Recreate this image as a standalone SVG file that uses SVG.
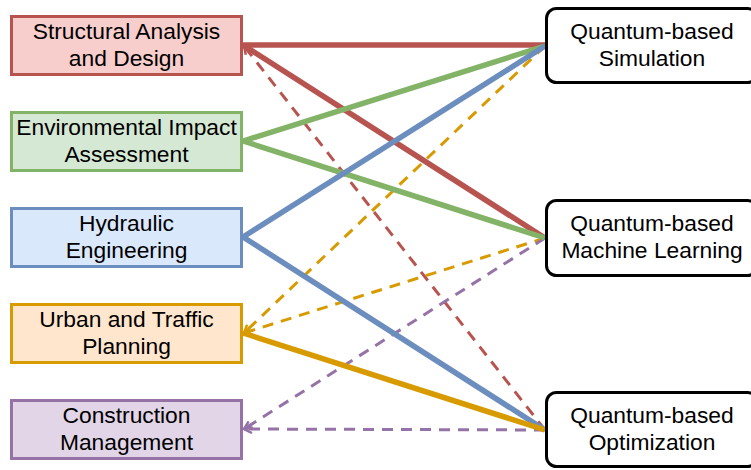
<svg xmlns="http://www.w3.org/2000/svg" width="751" height="470" viewBox="0 0 751 470">
<style>
text{font-family:"Liberation Sans",Arial,sans-serif;font-size:22.8px;fill:#000;text-anchor:middle}
.lb{stroke-width:3}
.rb{fill:#fff;stroke:#000;stroke-width:3}
.s{fill:none;stroke-width:5.5}
.d{fill:none;stroke-width:3;stroke-dasharray:11 8}
</style>
<defs>
<marker id="ar" viewBox="0 0 10 10" refX="9" refY="5" markerWidth="10" markerHeight="10" markerUnits="userSpaceOnUse" orient="auto"><path d="M1,1 L9,5 L1,9" fill="none" stroke="#b85450" stroke-width="2.5"/></marker>
<marker id="ao" viewBox="0 0 10 10" refX="9" refY="5" markerWidth="10" markerHeight="10" markerUnits="userSpaceOnUse" orient="auto"><path d="M1,1 L9,5 L1,9" fill="none" stroke="#d79b00" stroke-width="2.5"/></marker>
<marker id="ap" viewBox="0 0 10 10" refX="9" refY="5" markerWidth="10" markerHeight="10" markerUnits="userSpaceOnUse" orient="auto"><path d="M1,1 L9,5 L1,9" fill="none" stroke="#9673a6" stroke-width="2.5"/></marker>
</defs>
<g id="connectors">
<line class="d" x1="545" y1="430" x2="244" y2="46" stroke="#b85450" marker-end="url(#ar)"/>
<line class="d" x1="545" y1="46" x2="244" y2="333" stroke="#d79b00" marker-end="url(#ao)"/>
<line class="d" x1="545" y1="238" x2="244" y2="333" stroke="#d79b00" marker-end="url(#ao)"/>
<line class="d" x1="545" y1="238" x2="244" y2="429" stroke="#9673a6" marker-end="url(#ap)"/>
<line class="d" x1="545" y1="430" x2="244" y2="429" stroke="#9673a6" marker-end="url(#ap)"/>
<line class="s" x1="243" y1="45" x2="545" y2="45" stroke="#b85450"/>
<line class="s" x1="243" y1="45" x2="545" y2="238" stroke="#b85450"/>
<line class="s" x1="243" y1="141" x2="545" y2="46" stroke="#82b366"/>
<line class="s" x1="243" y1="141" x2="545" y2="238" stroke="#82b366"/>
<line class="s" x1="243" y1="237" x2="545" y2="46" stroke="#6c8ebf"/>
<line class="s" x1="243" y1="237" x2="545" y2="430" stroke="#6c8ebf"/>
<line class="s" x1="243" y1="333" x2="545" y2="430" stroke="#d79b00" stroke-width="7.5"/>
</g>
<g id="structural"><rect class="lb" x="11.5" y="16.5" width="230" height="58" fill="#f8cecc" stroke="#b85450"/><text x="126.5" y="39">Structural Analysis</text><text x="126.5" y="66">and Design</text></g>
<g id="environmental"><rect class="lb" x="11.5" y="112.5" width="230" height="58" fill="#d5e8d4" stroke="#82b366"/><text x="126.5" y="135">Environmental Impact</text><text x="126.5" y="162">Assessment</text></g>
<g id="hydraulic"><rect class="lb" x="11.5" y="208.5" width="230" height="58" fill="#dae8fc" stroke="#6c8ebf"/><text x="126.5" y="231">Hydraulic</text><text x="126.5" y="258">Engineering</text></g>
<g id="urban"><rect class="lb" x="11.5" y="304.5" width="230" height="58" fill="#ffe6cc" stroke="#d79b00"/><text x="126.5" y="327">Urban and Traffic</text><text x="126.5" y="354">Planning</text></g>
<g id="construction"><rect class="lb" x="11.5" y="400.5" width="230" height="58" fill="#e1d5e7" stroke="#9673a6"/><text x="126.5" y="423">Construction</text><text x="126.5" y="450">Management</text></g>
<g id="simulation"><rect class="rb" x="546.5" y="8.5" width="211" height="74" rx="10"/><text x="652" y="39">Quantum-based</text><text x="652" y="66">Simulation</text></g>
<g id="ml"><rect class="rb" x="546.5" y="200.5" width="211" height="75" rx="10"/><text x="652" y="231">Quantum-based</text><text x="652" y="258">Machine Learning</text></g>
<g id="optimization"><rect class="rb" x="546.5" y="392.5" width="211" height="74" rx="10"/><text x="652" y="423">Quantum-based</text><text x="652" y="450">Optimization</text></g>
</svg>
